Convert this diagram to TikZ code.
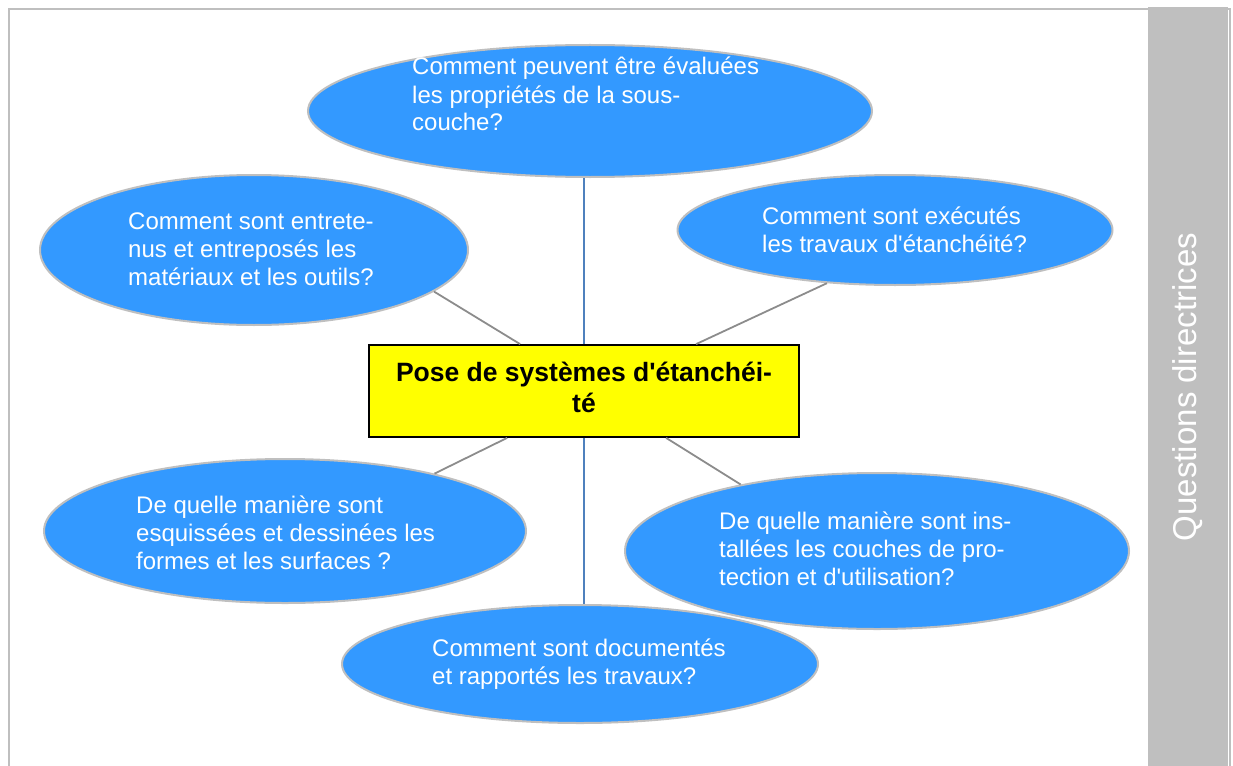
\documentclass[tikz,border=0pt]{standalone}
\usepackage{fontspec}
\setmainfont{Liberation Sans}
\usetikzlibrary{shapes.geometric}
\definecolor{qblue}{HTML}{3399FF}
\definecolor{qgray}{HTML}{BFBFBF}
\definecolor{lgray}{HTML}{8C8C8C}
\definecolor{lblue}{HTML}{4F81BD}
\definecolor{qyellow}{HTML}{FFFF00}
\tikzset{
  bubble/.style={ellipse, fill=qblue, draw=qgray, line width=2pt, inner sep=0pt},
  qtext/.style={anchor=base west, inner sep=0pt, align=left, text=white,
    font=\fontsize{24}{28}\selectfont},
  grayline/.style={draw=lgray, line width=1.8pt},
  blueline/.style={draw=lblue, line width=1.8pt},
  titlebox/.style={rectangle, fill=qyellow, draw=black, line width=1.8pt,
    minimum width=430pt, minimum height=92pt, inner sep=0pt, align=center,
    font=\fontsize{26.5}{31}\selectfont\bfseries}
}
\begin{document}
\begin{tikzpicture}[x=1pt,y=-1pt]
\useasboundingbox (0,0) rectangle (1233,765);
\clip (0,0) rectangle (1233,765);
% frame and side bar
\draw[qgray, line width=2pt] (9,9) rectangle (1230,800);
\fill[qgray] (1148,7) rectangle (1228,800);
\node[rotate=90, text=white, inner sep=0pt, font=\fontsize{33}{38}\selectfont] (bar) at (1188,387) {Questions directrices};
% bubbles
\node[bubble, minimum width=564pt, minimum height=132pt] (top) at (590,111) {};
\node[bubble, minimum width=428pt, minimum height=150pt] (ul) at (254,250) {};
\node[bubble, minimum width=435pt, minimum height=110pt] (ur) at (895,230) {};
\node[bubble, minimum width=482pt, minimum height=144pt] (ll) at (285,531) {};
\node[bubble, minimum width=504pt, minimum height=156pt] (lr) at (877,551) {};
\node[bubble, minimum width=476pt, minimum height=118pt] (bot) at (580,664) {};
% texts (anchored at the baseline of the last line)
\node[qtext] (ttop) at (412,131) {Comment peuvent être évaluées\\les propriétés de la sous-\\couche?};
\node[qtext] (tul) at (128,285) {Comment sont entrete-\\nus et entreposés les\\matériaux et les outils?};
\node[qtext] (tur) at (762,252) {Comment sont exécutés\\les travaux d\textquotesingle étanchéité?};
\node[qtext] (tll) at (136,569) {De quelle manière sont\\esquissées et dessinées les\\formes et les surfaces ?};
\node[qtext] (tlr) at (719,585) {De quelle manière sont ins-\\tallées les couches de pro-\\tection et d\textquotesingle utilisation?};
\node[qtext] (tbot) at (432,684) {Comment sont documentés\\et rapportés les travaux?};
% centre
\node[titlebox] (c) at (584,391) {Pose de systèmes d\textquotesingle étanchéi-\\té\rule[-8pt]{0pt}{8pt}};
% connectors
\draw[blueline] (c.north) -- (c.north |- top.south);
\draw[blueline] (c.south) -- (c.south |- bot.north);
\draw[grayline] (ul.-13) -- ([xshift=152pt]c.north west);
\draw[grayline] (ur.-142.5) -- ([xshift=328pt]c.north west);
\draw[grayline] (ll.21.7) -- ([xshift=139pt]c.south west);
\draw[grayline] (lr.154.1) -- ([xshift=298pt]c.south west);
\end{tikzpicture}
\end{document}
